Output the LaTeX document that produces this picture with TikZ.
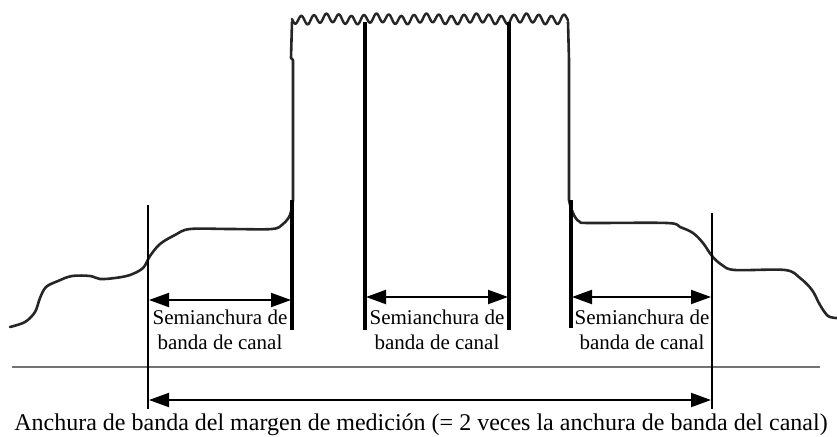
\documentclass[tikz,border=0pt]{standalone}
\usepackage{fontspec}
\setmainfont{Liberation Serif}
\usetikzlibrary{arrows.meta}
\begin{document}
\begin{tikzpicture}[x={(1pt,0)},y={(0,-1pt)},
  spectrum/.style={line width=2.6pt,line join=round,line cap=round,color=black!85},
  thinbar/.style={line width=2.2pt},
  thickbar/.style={line width=3.8pt},
  dim/.style={line width=2pt,{Triangle[length=20pt,width=14pt]}-{Triangle[length=20pt,width=14pt]},shorten <=1pt,shorten >=1pt},
  axisline/.style={line width=1.5pt,color=black!55},
  lab/.style={font=\fontsize{21}{25}\selectfont,align=center,inner sep=0pt,anchor=north},
  captext/.style={font=\fontsize{24}{26}\selectfont,inner sep=0pt,anchor=base}]
\useasboundingbox (0,0) rectangle (837,436);
% axis
\coordinate (axL) at (12,367);
\coordinate (axR) at (820,367);
\draw[axisline] (axL) -- (axR);
% spectrum curve
\draw[spectrum] plot[smooth,tension=0.55] coordinates {(10,327) (25,322) (35,312) (40,298) (46,287) (58,281) (72,276) (90,276) (100,279) (115,278) (130,275) (143,268) (150,256) (160,244) (175,235) (190,229) (230,229) (272,229) (283,224) (290,215) (293,200)}
  -- (293,60) -- (291,58) -- (292,22);
\draw[spectrum,line width=2.4pt] plot[domain=0:276,samples=360] ({292+\x},{19+4.3*sin(\x*28.8)+1.2*sin(\x*7.3)});
\draw[spectrum] (568,22) -- (569,60) -- (569,200)
  plot[smooth,tension=0.55] coordinates {(569,200) (571,208) (575,217) (580,222) (590,223) (667,223) (680,227) (693,233) (703,243) (712,256) (722,265) (735,270) (785,270) (800,278) (812,290) (820,305) (828,316) (837,318)};
% vertical markers
\coordinate (v1t) at (148,205); \coordinate (v1b) at (148,409);
\coordinate (v2t) at (292,200); \coordinate (v2b) at (292,330);
\coordinate (v3t) at (365,22);  \coordinate (v3b) at (365,330);
\coordinate (v4t) at (509,22);  \coordinate (v4b) at (509,330);
\coordinate (v5t) at (571,200); \coordinate (v5b) at (571,328);
\coordinate (v6t) at (712,213); \coordinate (v6b) at (712,409);
\draw[thinbar] (v1t) -- (v1b);
\draw[thickbar] (v2t) -- (v2b);
\draw[thickbar] (v3t) -- (v3b);
\draw[thickbar] (v4t) -- (v4b);
\draw[thickbar] (v5t) -- (v5b);
\draw[thinbar] (v6t) -- (v6b);
% dimension arrows
\coordinate (a1) at (0,300); \coordinate (a2) at (0,297); \coordinate (a3) at (0,400);
\draw[dim] (v1t |- a1) -- (v2t |- a1);
\draw[dim] (v3t |- a2) -- (v4t |- a2);
\draw[dim] (v5t |- a2) -- (v6t |- a2);
\draw[dim] (v1t |- a3) -- (v6t |- a3);
% labels
\node[lab] (l1) at (220,310) {Semianchura de\\banda de canal};
\node[lab] (l2) at (437,310) {Semianchura de\\banda de canal};
\node[lab] (l3) at (642,310) {Semianchura de\\banda de canal};
\node[captext] (c) at (421,430) {Anchura de banda del margen de medición (= 2 veces la anchura de banda del canal)};
\end{tikzpicture}
\end{document}
